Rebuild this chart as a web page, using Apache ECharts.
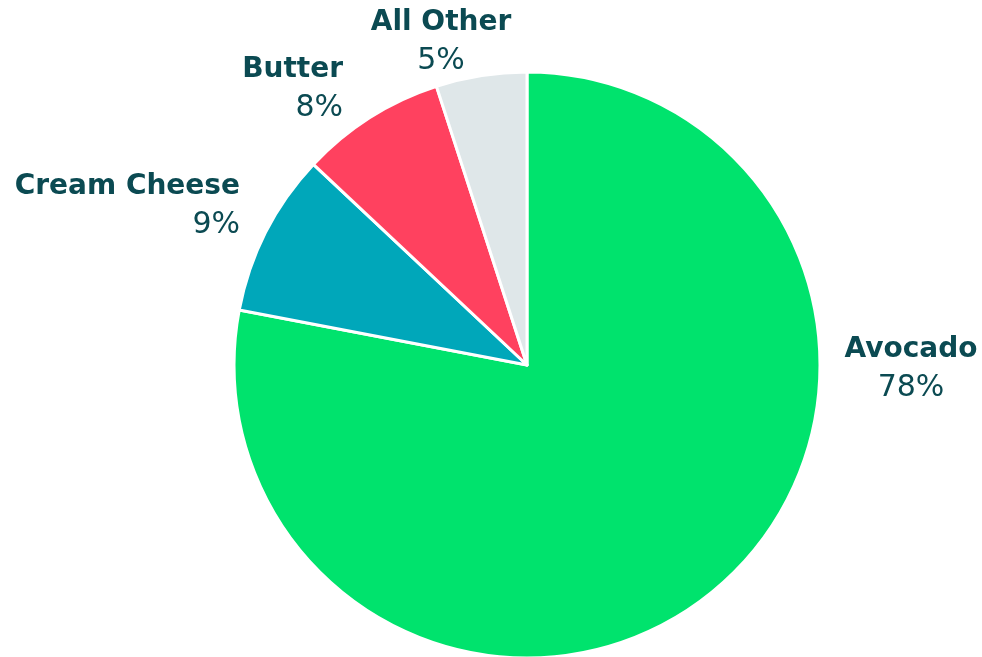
<!DOCTYPE html>
<html>
<head>
<meta charset="utf-8">
<script src="https://cdn.jsdelivr.net/npm/echarts@6/dist/echarts.min.js"></script>
<style>
  html, body { margin: 0; padding: 0; background: #fff; }
  #chart { width: 982px; height: 657px; }
</style>
</head>
<body>
<div id="chart"></div>
<script type="text/javascript">
    // categories and shares (%)
    var names = ['Avocado', 'Cream Cheese', 'Butter', 'All Other'];
    var shares = [78, 9, 8, 5];
    var colors = ['#00e36d', '#00a7ba', '#ff415f', '#dfe7e9'];

    var textColor = '#0b4a52';

    // where each label sits (x, y, align)
    function labelSpot(i){
        if(i === 0) return {x: 911, y: 369, align: 'center'};
        if(i === 1) return {x: 240, y: 206, align: 'right'};
        if(i === 2) return {x: 343, y: 89, align: 'right'};
        return {x: 441, y: 42, align: 'center'};
    }

    var data = [];
    for(var i = 0; i < names.length; i++){
        data.push({
            name: names[i],
            value: shares[i],
            itemStyle: {color: colors[i]},
            label: {align: labelSpot(i).align}
        });
    }

    var chart = echarts.init(document.getElementById('chart'));
    var options = {
        animation: false,
        series: [{
            type: 'pie',
            center: [527, 365],
            radius: 293,
            startAngle: 90,
            clockwise: true,
            avoidLabelOverlap: false,
            itemStyle: {
                borderColor: '#ffffff',
                borderWidth: 3
            },
            label: {
                show: true,
                position: 'outside',
                formatter: function(p){
                    return '{n|' + p.name + '}\n{p|' + p.value + '%}';
                },
                rich: {
                    n: {
                        fontFamily: 'DejaVu Sans',
                        fontWeight: 'bold',
                        fontSize: 28,
                        color: textColor,
                        lineHeight: 38
                    },
                    p: {
                        fontFamily: 'DejaVu Sans',
                        fontWeight: 'normal',
                        fontSize: 30,
                        color: textColor,
                        lineHeight: 38
                    }
                }
            },
            labelLine: {show: false},
            labelLayout: function(params){
                var s = labelSpot(params.dataIndex);
                return {x: s.x, y: s.y, align: s.align, verticalAlign: 'middle'};
            },
            emphasis: {disabled: true},
            data: data
        }]
    };
    chart.setOption(options);
</script>
</body>
</html>
